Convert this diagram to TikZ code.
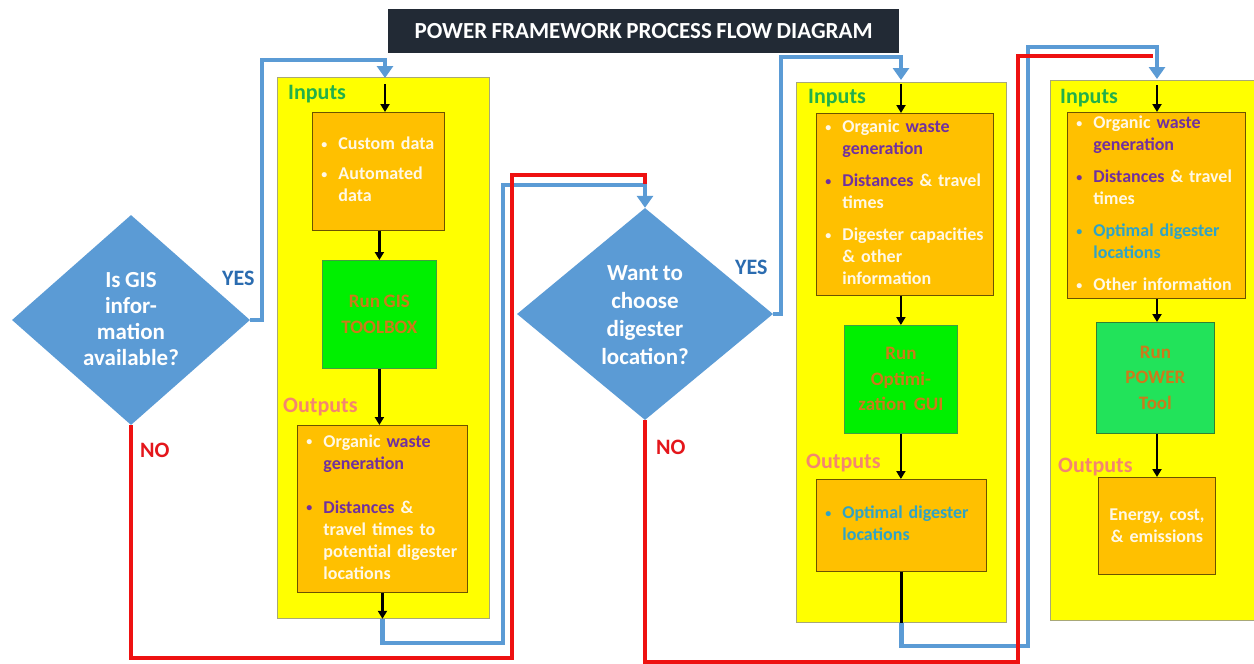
\documentclass[tikz,border=0pt]{standalone}
\usepackage{fontspec}
\setmainfont{Carlito}[WordSpace=0.85]
\usetikzlibrary{shapes.geometric,arrows.meta}
\definecolor{cblue}{HTML}{5B9BD5}
\definecolor{cred}{HTML}{EE1111}
\definecolor{ttl}{HTML}{222A35}
\definecolor{pyel}{HTML}{FFFF00}
\definecolor{pbrd}{HTML}{A8A878}
\definecolor{obg}{HTML}{FFC000}
\definecolor{obrd}{HTML}{6B5300}
\definecolor{gbg}{HTML}{00F000}
\definecolor{gbgb}{HTML}{22E35A}
\definecolor{gbrd}{HTML}{3FA03F}
\definecolor{gtxt}{HTML}{CC7A1A}
\definecolor{twh}{HTML}{FFF8E6}
\definecolor{tpu}{HTML}{7030A0}
\definecolor{tte}{HTML}{2FA3C6}
\definecolor{ingr}{HTML}{22B04A}
\definecolor{outsa}{HTML}{F4866F}
\definecolor{yesb}{HTML}{2B6CB0}
\definecolor{nor}{HTML}{E4161B}
\newcommand{\TxW}[1]{\textcolor{twh}{#1}}
\newcommand{\TxP}[1]{\textcolor{tpu}{#1}}
\newcommand{\TxT}[1]{\textcolor{tte}{#1}}
\newcommand{\Bul}[1]{\textcolor{#1}{\raisebox{1.5pt}{\fontsize{12}{12}\selectfont\textbullet}}}
\begin{document}
\begin{tikzpicture}[x=1pt,y=-1pt,
  panel/.style={draw=pbrd, fill=pyel, line width=0.8pt, anchor=north west, inner sep=0pt},
  obox/.style={draw=obrd, fill=obg, line width=0.9pt, anchor=north west, inner xsep=9pt, inner ysep=0pt, align=left, font=\fontsize{18}{22}\selectfont\bfseries},
  gbox/.style={draw=gbrd, fill=gbg, line width=0.8pt, anchor=north west, inner sep=0pt, align=center, text=gtxt, font=\fontsize{19}{25.5}\selectfont\bfseries},
  dia/.style={diamond, fill=cblue, draw=none, inner sep=0pt},
  diatext/.style={text=white, align=center, inner sep=0pt, font=\fontsize{23}{26}\selectfont\bfseries},
  lblin/.style={anchor=base west, inner sep=0pt, text=ingr, font=\fontsize{22}{26}\selectfont\bfseries},
  lblout/.style={anchor=base west, inner sep=0pt, text=outsa, font=\fontsize{22}{26}\selectfont\bfseries},
  yeslbl/.style={anchor=base west, inner sep=0pt, text=yesb, font=\fontsize{22}{26}\selectfont\bfseries},
  nolbl/.style={anchor=base west, inner sep=0pt, text=nor, font=\fontsize{22}{26}\selectfont\bfseries},
  bluecon/.style={draw=cblue, line width=4.5pt, line join=miter},
  btip/.style={-{Triangle[length=12pt,width=16pt]}},
  redcon/.style={draw=cred, line width=4pt, line join=miter},
  blk/.style={draw=black, line width=2.2pt, -{Triangle[length=8pt,width=9pt]}},
  blkline/.style={draw=black, line width=2.2pt}
]
\useasboundingbox (0,0) rectangle (1254,664);
\clip (0,0) rectangle (1254,664);
\fill[white] (0,0) rectangle (1254,664);

% title
\node[anchor=north west, fill=ttl, text=white, minimum width=511pt, minimum height=44pt, inner sep=0pt,
  font=\fontsize{23}{26}\selectfont\bfseries] (title) at (388,9) {POWER FRAMEWORK PROCESS FLOW DIAGRAM};

% panels
\node[panel, minimum width=212pt, minimum height=541pt] (p1) at (277,77) {};
\node[panel, minimum width=210pt, minimum height=540pt] (p2) at (796,82) {};
\node[panel, minimum width=212pt, minimum height=540pt] (p3) at (1050,80) {};

% panel 1
\node[lblin] (in1) at (288,99) {Inputs};
\node[obox, text width=114pt, minimum height=118pt] (i1) at (312,112) {%
\begin{tabular}{@{}l@{\hspace{11pt}}l@{}}
\Bul{twh} & \TxW{Custom data}\\[8pt]
\Bul{twh} & \TxW{Automated}\\
 & \TxW{data}
\end{tabular}};
\node[gbox, minimum width=114pt, minimum height=108pt] (g1) at (322,260) {Run GIS\\TOOLBOX};
\node[lblout] (out1) at (283,412) {Outputs};
\node[obox, text width=152pt, minimum height=167pt] (o1) at (297,425) {%
\begin{tabular}{@{}l@{\hspace{11pt}}l@{}}
\Bul{twh} & \TxW{Organic} \TxP{waste}\\
 & \TxP{generation}\\[22pt]
\Bul{tpu} & \TxP{Distances} \TxW{\&}\\
 & \TxW{travel times to}\\
 & \TxW{potential digester}\\
 & \TxW{locations}
\end{tabular}};

% panel 2
\node[lblin] (in2) at (808,103) {Inputs};
\node[obox, text width=159pt, minimum height=182pt] (i2) at (816,113) {%
\begin{tabular}{@{}l@{\hspace{11pt}}l@{}}
\Bul{twh} & \TxW{Organic} \TxP{waste}\\
 & \TxP{generation}\\[10pt]
\Bul{tpu} & \TxP{Distances} \TxW{\& travel}\\
 & \TxW{times}\\[10pt]
\Bul{twh} & \TxW{Digester capacities}\\
 & \TxW{\& other}\\
 & \TxW{information}
\end{tabular}};
\node[gbox, minimum width=113pt, minimum height=108pt] (g2) at (844,325) {Run\\Optimi-\\zation~ GUI};
\node[lblout] (out2) at (806,468) {Outputs};
\node[obox, text width=152pt, minimum height=92pt] (o2) at (816,479) {%
\begin{tabular}{@{}l@{\hspace{11pt}}l@{}}
\Bul{tte} & \TxT{Optimal digester}\\
 & \TxT{locations}
\end{tabular}};

% panel 3
\node[lblin] (in3) at (1060,103) {Inputs};
\node[obox, text width=160pt, minimum height=186pt] (i3) at (1067,112) {%
\begin{tabular}{@{}l@{\hspace{11pt}}l@{}}
\Bul{twh} & \TxW{Organic} \TxP{waste}\\
 & \TxP{generation}\\[10pt]
\Bul{tpu} & \TxP{Distances} \TxW{\& travel}\\
 & \TxW{times}\\[10pt]
\Bul{tte} & \TxT{Optimal digester}\\
 & \TxT{locations}\\[10pt]
\Bul{twh} & \TxW{Other information}
\end{tabular}};
\node[gbox, fill=gbgb, draw=gbrd!80!black, minimum width=118pt, minimum height=111pt] (g3) at (1096,322) {Run\\POWER\\Tool};
\node[lblout] (out3) at (1058,472) {Outputs};
\node[obox, text width=99pt, minimum height=97pt, align=center] (o3) at (1098,477) {\TxW{Energy, cost,}\\\TxW{\& emissions}};

% diamonds
\node[dia, minimum width=238pt, minimum height=210pt] (d1) at (131,320) {};
\node[diatext] (d1t) at (131,319) {Is GIS\\infor-\\mation\\available?};
\node[dia, minimum width=256pt, minimum height=212pt] (d2) at (645,314) {};
\node[diatext, font=\fontsize{23}{28}\selectfont\bfseries] (d2t) at (645,315) {Want to\\choose\\digester\\location?};

% labels
\node[yeslbl] (yes1) at (222,285) {YES};
\node[yeslbl] (yes2) at (735,274) {YES};
\node[nolbl] (no1) at (140,457) {NO};
\node[nolbl] (no2) at (656,454) {NO};

% coordinates
\coordinate (a1) at (385,78);
\coordinate (k1) at (262,60);
\coordinate (b1) at (o1.south |- p1.south);
\coordinate (k2) at (503,185);
\coordinate (k3) at (512,175);
\coordinate (r1) at (645,184);
\coordinate (a2) at (901,80);
\coordinate (k4) at (781,57);
\coordinate (b2) at (o2.south |- p2.south);
\coordinate (k6) at (1028,47);
\coordinate (a3) at (1157,79);
\coordinate (k5) at (1018,56);
\coordinate (r2) at (1153,56);

% black arrows
\draw[blk] ([yshift=-6pt]a1) -- (a1 |- i1.north);
\draw[blk] (i1.south -| g1.north) -- (g1.north);
\draw[blk] (g1.south) -- (g1.south |- o1.north);
\draw[blk] (o1.south) -- (b1);
\draw[blk] ([yshift=-4pt]a2) -- (a2 |- i2.north);
\draw[blk] (i2.south -| g2.north) -- (g2.north);
\draw[blk] (g2.south) -- (g2.south |- o2.north);
\draw[blkline] (o2.south) -- (b2);
\draw[blk] ([yshift=-6pt]a3) -- (a3 |- i3.north);
\draw[blk] (i3.south -| a3) -- (g3.north -| a3);
\draw[blk] (g3.south -| a3) -- (o3.north -| a3);

% blue connectors
\draw[bluecon, btip] (d1.east) -| (k1) -| (a1);
\draw[bluecon, btip] (b1) -- ++(0,24) -| (k2) -| (d2.north);
\draw[bluecon, btip] (d2.east) -| (k4) -| (a2);
\draw[bluecon, btip] (b2) -- ++(0,23) -| (k6) -| (a3);

% red connectors
\draw[redcon] (d1.south) -- ++(0,233) -| (k3) -| (r1);
\draw[redcon] (d2.south) -- ++(0,242) -| (k5) -- (r2);
\end{tikzpicture}
\end{document}
